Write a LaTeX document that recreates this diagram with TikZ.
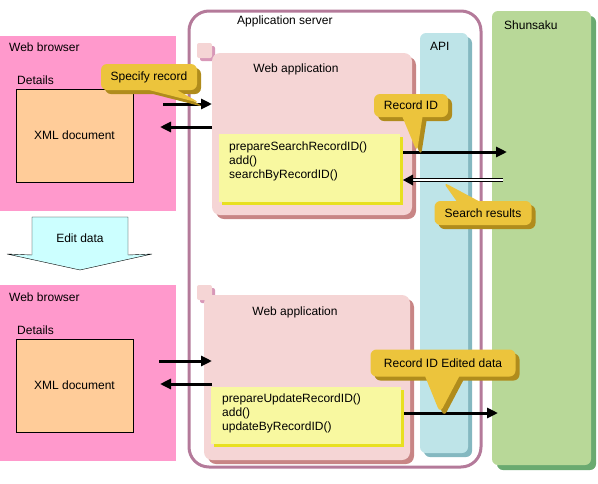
\documentclass[tikz,border=0pt]{standalone}
\usepackage{fontspec}
\setmainfont{Liberation Sans}
\usetikzlibrary{arrows.meta,shapes.callouts,shadows,calc}
\definecolor{pinkbg}{HTML}{FF99CC}
\definecolor{xmlc}{HTML}{FFCC99}
\definecolor{srvc}{HTML}{B47A9A}
\definecolor{appc}{HTML}{F5D5D5}
\definecolor{appsh}{HTML}{C88585}
\definecolor{sqsh}{HTML}{D898B8}
\definecolor{ybc}{HTML}{F8F8A0}
\definecolor{ybsh}{HTML}{E8E020}
\definecolor{apic}{HTML}{BEE4E8}
\definecolor{apish}{HTML}{84B8C0}
\definecolor{shunc}{HTML}{B8D898}
\definecolor{shunsh}{HTML}{6AAA70}
\definecolor{callc}{HTML}{ECC43C}
\definecolor{callsh}{HTML}{B08C1C}
\definecolor{editc}{HTML}{CCFFFF}
\begin{document}
\begin{tikzpicture}[x=1pt,y=-1pt,
  font=\fontsize{12}{14}\selectfont,
  box/.style={anchor=north west, inner sep=0pt, outer sep=0pt},
  lbl/.style={anchor=west, inner sep=0pt},
  arr/.style={line width=3pt, -{Triangle[length=11pt,width=10pt]}},
  dbl/.style={double=white, double distance=1.6pt, line width=1.5pt, shorten >=9pt},
  shad/.style 2 args={drop shadow={shadow xshift=#1, shadow yshift=-#1, opacity=1, fill=#2}},
  callbox/.style={rectangle callout, fill=callc, rounded corners=6pt, inner sep=0pt,
    shad={4pt}{callsh}},
  webapp/.style={box, fill=appc, rounded corners=8pt, shad={4pt}{appsh}},
  sq/.style={box, fill=appc, rounded corners=2pt, minimum width=15pt, minimum height=15pt, shad={3pt}{sqsh}},
  ybox/.style={box, fill=ybc, shad={3pt}{ybsh}},
  xmlbox/.style={box, draw=black, fill=xmlc, minimum width=117pt, minimum height=93pt},
  browser/.style={box, fill=pinkbg, minimum width=176pt}
]
\useasboundingbox (0,0) rectangle (598,483);

% application server, API, Shunsaku
\node[box, draw=srvc, line width=3pt, rounded corners=20pt, minimum width=292pt, minimum height=456pt] (srv) at (189,11) {};
\node[lbl] (srvl) at (237,21) {Application server};
\node[box, fill=apic, rounded corners=6pt, minimum width=48pt, minimum height=420pt, shad={4pt}{apish}] (api) at (420,33) {};
\node[lbl] (apil) at (430,46) {API};
\node[box, fill=shunc, rounded corners=6pt, minimum width=99pt, minimum height=454pt, shad={5pt}{shunsh}] (shun) at (492,11) {};
\node[lbl] (shunl) at (504,25) {Shunsaku};

% top browser
\node[browser, minimum height=175pt] (wb1) at (0,36) {};
\node[lbl] (wb1l) at (9,47.5) {Web browser};
\node[lbl] (det1) at (17,80) {Details};
\node[xmlbox] (xml1) at (16,89) {};
\node (xml1l) at (xml1.center) {XML document};

% bottom browser
\node[browser, minimum height=176pt] (wb2) at (0,285) {};
\node[lbl] (wb2l) at (9,297.5) {Web browser};
\node[lbl] (det2) at (17,330) {Details};
\node[xmlbox] (xml2) at (16,339) {};
\node (xml2l) at (xml2.center) {XML document};

% edit data block arrow
\draw[fill=editc] (32,217) -- (128,217) -- (128,255) -- (152,254) -- (80,270) -- (7,254) -- (32,255) -- cycle;
\node (edit) at (80,238) {Edit data};

% top web application
\node[sq] (sq1) at (197,43) {};
\node[webapp, minimum width=200pt, minimum height=162pt] (wa1) at (212,53) {};
\node (wa1l) at (296,69) {Web application};
\node[ybox, minimum width=181pt, minimum height=68pt] (yb1) at (219,134) {};
\node[lbl, align=left] (yb1t) at (229,161) {prepareSearchRecordID()\\add()\\searchByRecordID()};

% bottom web application
\node[sq] (sq2) at (197,285) {};
\node[webapp, minimum width=206pt, minimum height=165pt] (wa2) at (204,295) {};
\node (wa2l) at (295,312) {Web application};
\node[ybox, minimum width=190pt, minimum height=57pt] (yb2) at (211,387) {};
\node[lbl, align=left] (yb2t) at (222,413.5) {prepareUpdateRecordID()\\add()\\updateByRecordID()};

% arrows top
\coordinate (s1) at (163,104);
\draw[arr] (s1) -- (s1 -| wa1.west);
\coordinate (e2) at (160,127);
\draw[arr] (e2 -| wa1.west) -- (e2);
\coordinate (e3) at (507,152);
\draw[arr] ($(e3 -| yb1.east)+(3,0)$) -- (e3);
\coordinate (s4) at (503,180);
\coordinate (t4) at ($(s4 -| yb1.east)+(3,0)$);
\draw[dbl] (s4) -- (t4);
\fill (t4) -- ++(10,-5.5) -- ++(0,11) -- cycle;

% arrows bottom
\coordinate (s5) at (159,361);
\draw[arr] (s5) -- ($(s5 -| wa2.west)+(8,0)$);
\coordinate (e6) at (160,384);
\draw[arr] ($(e6 -| wa2.west)+(8,0)$) -- (e6);
\coordinate (e7) at (498,413);
\draw[arr] ($(e7 -| yb2.east)+(3,0)$) -- (e7);

% callouts
\node[callbox, minimum width=96pt, minimum height=26pt, callout pointer width=28pt, callout absolute pointer={(200,103)}] (c1) at (149,77) {Specify record};
\node[callbox, minimum width=74pt, minimum height=23pt, callout pointer width=20pt, callout absolute pointer={(417,152)}] (c2) at (411,105.5) {Record ID};
\node[callbox, minimum width=97pt, minimum height=24pt, callout pointer width=22pt, callout absolute pointer={(443,182)}] (c3) at (483,213) {Search results};
\node[callbox, minimum width=145pt, minimum height=27pt, callout pointer width=34pt, callout absolute pointer={(440,413)}] (c4) at (443,363) {Record ID Edited data};
\end{tikzpicture}
\end{document}
